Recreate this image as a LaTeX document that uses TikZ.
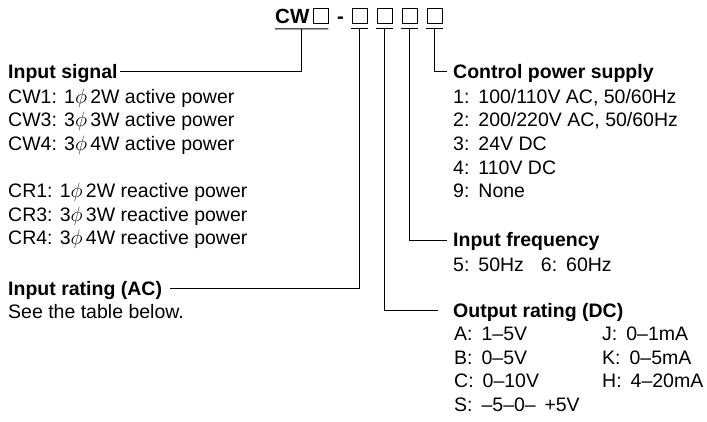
\documentclass[tikz,border=0pt]{standalone}
\usepackage{fontspec}
\setmainfont{Liberation Sans}
\usetikzlibrary{calc}
\newcommand{\colgap}{\hspace{9pt}}
\tikzset{
  item/.style={anchor=base west, inner sep=0pt, font=\fontsize{19.5}{23}\selectfont},
  head/.style={item, font=\fontsize{19.5}{23}\selectfont\bfseries, text height=13.5pt, text depth=0pt},
  code/.style={anchor=base west, inner sep=0pt, font=\fontsize{20.5}{24}\selectfont\bfseries},
  digit/.style={draw, line width=0.8pt, minimum width=15pt, minimum height=15pt, inner sep=0pt},
  lead/.style={line width=0.9pt},
}
\begin{document}
\begin{tikzpicture}[x=1pt, y=-1pt]
    \useasboundingbox (0,0) rectangle (707,421);
    % model code
    \node[code] (cw) at (275,23) {CW};
    \node[digit] (b0) at (320.5,15.5) {};
    \node[code, anchor=base] (dash) at (340.5,23) {-};
    \foreach \x [count=\i] in {359.5,384.5,409.5,434.5}
      \node[digit] (b\i) at (\x,15.5) {};
    % underlines and taps
    \draw[lead] ([yshift=-5.5pt]cw.south west) -- ([yshift=-5.5pt]b0.south east);
    \coordinate (t0) at ([yshift=-5.5pt]$(cw.south west)!0.5!(b0.south east)$);
    \foreach \i in {1,...,4} {
      \draw[lead] ([xshift=-1pt,yshift=-5.5pt]b\i.south west) -- ([xshift=1pt,yshift=-5.5pt]b\i.south east);
      \coordinate (t\i) at ([yshift=-5.5pt]b\i.south);
    }

    % left column
    \node[head] (sig) at (8,78.3) {Input signal};
    \foreach \t [count=\k from 0] in {CW1: 1$\phi$\,2W active power, CW3: 3$\phi$\,3W active power, CW4: 3$\phi$\,4W active power}
      \node[item] (sig-w\k) at (8,103.3+23.6*\k) {\t};
    \foreach \t [count=\k from 4] in {CR1: 1$\phi$\,2W reactive power, CR3: 3$\phi$\,3W reactive power, CR4: 3$\phi$\,4W reactive power}
      \node[item] (sig-r\k) at (8,103.3+23.6*\k) {\t};
    \node[head] (rat) at (8,295) {Input rating (AC)};
    \node[item] (rat-1) at (8,318.3) {See the table below.};

    % right column
    \node[head] (ctl) at (453,78.3) {Control power supply};
    \foreach \t [count=\k from 0] in {{1:\colgap 100/110V AC, 50/60Hz}, {2:\colgap 200/220V AC, 50/60Hz}, 3:\colgap 24V DC, 4:\colgap 110V DC, 9:\colgap None}
      \node[item] (ctl-\k) at (453,103.3+23.6*\k) {\t};
    \node[head] (frq) at (453,246.7) {Input frequency};
    \node[item] (frq-1) at (453,271) {5:\colgap 50Hz\hspace{17pt}6:\colgap 60Hz};
    \node[head] (out) at (453,317) {Output rating (DC)};
    \foreach \t [count=\k from 0] in {A:\colgap 1--5V, B:\colgap 0--5V, C:\colgap 0--10V, S:\colgap --5--0--\ \,+5V}
      \node[item] (out-v\k) at (454,340.5+23.5*\k) {\t};
    \foreach \t [count=\k from 0] in {J:\colgap 0--1mA, K:\colgap 0--5mA, H:\colgap 4--20mA}
      \node[item] (out-a\k) at (602,340.5+23.5*\k) {\t};

    % leaders
    \draw[lead] (t0) |- ([xshift=2pt]sig.east);
    \draw[lead] (t1) |- ([xshift=8pt]rat.east);
    \draw[lead] (t2) |- ([xshift=-15pt]out.west);
    \draw[lead] (t3) |- ([xshift=-6pt]frq.west);
    \draw[lead] (t4) |- ([xshift=-6pt]ctl.west);
\end{tikzpicture}
\end{document}
